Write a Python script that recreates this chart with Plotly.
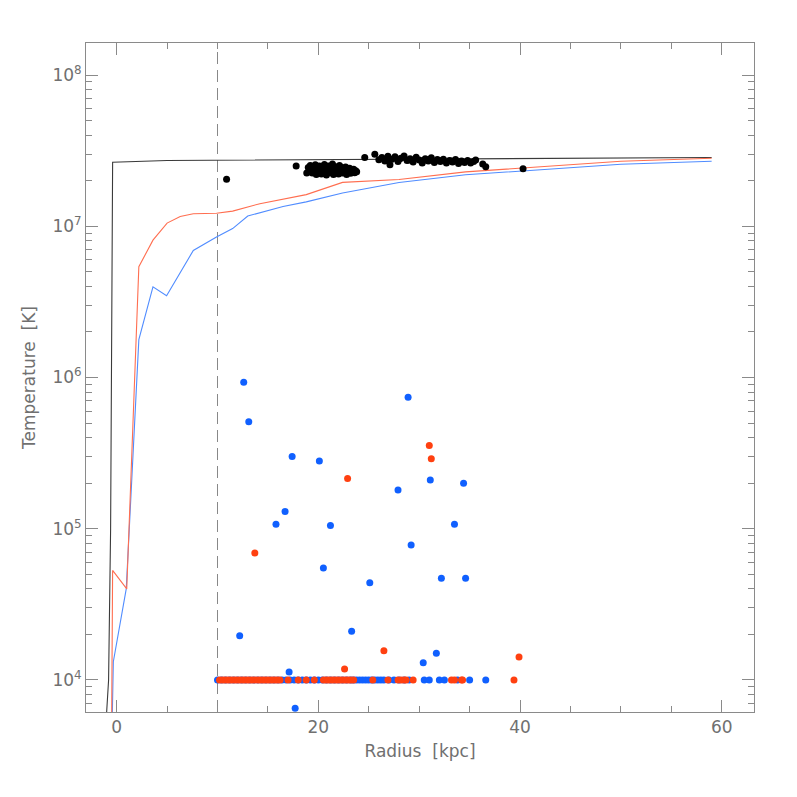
import plotly.graph_objects as go

# ---------------- data ----------------
# profile lines (radius kpc, temperature K)
black_line_r = [-1.0, -0.8, -0.6, -0.5, -0.4, 5, 18, 30, 40, 50, 59]
black_line_T = [6.0e3, 1.0e4, 1.0e5, 1.0e6, 2.65e7, 2.72e7, 2.75e7, 2.75e7, 2.78e7, 2.82e7, 2.85e7]

red_line_r = [-0.5, -0.4, 1.0, 2.2, 3.6, 5.0, 6.3, 7.6, 9.9, 11.5, 14.2, 18.8, 22.4, 28.0, 34.6, 42.9, 50, 59]
red_line_T = [5.0e3, 5.3e4, 4.0e4, 5.4e6, 8.1e6, 1.05e7, 1.16e7, 1.21e7, 1.22e7, 1.26e7, 1.41e7,
              1.62e7, 1.95e7, 2.04e7, 2.29e7, 2.51e7, 2.69e7, 2.82e7]

blue_line_r = [-0.45, -0.33, 0.95, 2.2, 3.6, 4.95, 7.6, 9.9, 11.5, 13.0, 16.5, 18.8, 22.4, 28.0, 34.6, 42.9, 50, 59]
blue_line_T = [5.0e3, 1.32e4, 4.0e4, 1.78e6, 3.98e6, 3.47e6, 6.92e6, 8.5e6, 9.66e6, 1.17e7, 1.35e7,
               1.45e7, 1.66e7, 1.95e7, 2.19e7, 2.40e7, 2.57e7, 2.69e7]

# hot gas particles (black)
black_r = [19.0, 19.1, 19.2, 19.3, 19.4, 19.5, 19.6, 19.7, 19.8, 19.9, 20.0, 20.1, 20.2, 20.3, 20.4,
           20.5, 20.6, 20.7, 20.8, 20.9, 21.0, 21.1, 21.2, 21.3, 21.4, 21.5, 21.6, 21.7, 21.8, 21.9,
           22.0, 22.1, 22.2, 22.3, 22.4, 22.5, 22.6, 22.7, 22.8, 22.9, 23.0, 23.1, 23.2, 23.3, 23.4,
           23.5, 23.6, 23.7, 23.8, 19.5, 20.0, 20.5, 21.0, 21.5, 22.0, 22.5, 19.8, 20.8, 21.8, 22.8,
           20.3, 21.3, 22.3, 10.9, 17.8, 18.85,
           26.0, 26.3, 26.6, 26.9, 27.1, 27.3, 27.6, 27.9, 28.2, 28.5, 28.8, 29.1, 29.4, 29.7, 30.0,
           30.3, 30.6, 30.9, 31.2, 31.5, 31.8, 32.1, 32.4, 32.7, 33.0, 33.3, 33.6, 33.9, 34.2, 34.5,
           34.8, 35.1, 35.4, 35.6, 28.0, 29.0, 30.4, 31.0, 32.0, 33.2, 34.0, 27.0, 24.6, 25.6, 36.3,
           36.6, 40.3]
black_T = [2.45e7, 2.30e7, 2.52e7, 2.38e7, 2.25e7, 2.48e7, 2.33e7, 2.55e7, 2.20e7, 2.42e7, 2.30e7,
           2.50e7, 2.36e7, 2.22e7, 2.46e7, 2.28e7, 2.56e7, 2.40e7, 2.18e7, 2.34e7, 2.50e7, 2.26e7,
           2.44e7, 2.32e7, 2.58e7, 2.20e7, 2.38e7, 2.48e7, 2.28e7, 2.42e7, 2.22e7, 2.52e7, 2.35e7,
           2.45e7, 2.25e7, 2.40e7, 2.30e7, 2.47e7, 2.20e7, 2.36e7, 2.28e7, 2.42e7, 2.24e7, 2.34e7,
           2.30e7, 2.38e7, 2.26e7, 2.33e7, 2.29e7, 2.40e7, 2.44e7, 2.38e7, 2.36e7, 2.32e7, 2.40e7,
           2.32e7, 2.36e7, 2.46e7, 2.36e7, 2.30e7, 2.32e7, 2.40e7, 2.30e7, 2.05e7, 2.50e7, 2.25e7,
           2.75e7, 2.85e7, 2.70e7, 2.90e7, 2.55e7, 2.78e7, 2.88e7, 2.68e7, 2.82e7, 2.92e7, 2.72e7,
           2.80e7, 2.66e7, 2.86e7, 2.74e7, 2.62e7, 2.80e7, 2.70e7, 2.84e7, 2.64e7, 2.76e7, 2.68e7,
           2.78e7, 2.62e7, 2.72e7, 2.66e7, 2.76e7, 2.60e7, 2.70e7, 2.64e7, 2.72e7, 2.62e7, 2.68e7,
           2.74e7, 2.78e7, 2.74e7, 2.72e7, 2.76e7, 2.72e7, 2.70e7, 2.66e7, 2.80e7, 2.85e7, 3.00e7,
           2.58e7, 2.48e7, 2.40e7]

# cold gas particles (blue)
blue_r = [12.6, 13.1, 17.4, 20.1, 28.9, 27.9, 31.1, 34.4, 16.7, 15.8, 21.2, 33.5, 29.2, 20.5, 25.1,
          32.2, 34.6, 12.2, 23.3, 31.7, 30.4, 17.1, 17.7,
          10.0, 10.4, 10.8, 11.2, 11.6, 12.0, 12.4, 12.8, 13.2, 13.6, 14.0, 14.4, 14.8, 15.2, 15.6,
          16.0, 16.4, 16.8, 17.2, 17.6, 18.0, 18.4, 18.8, 19.2, 19.6, 20.0, 20.4, 20.8, 21.2, 21.6,
          22.0, 22.4, 22.8, 23.2, 23.5, 23.8, 24.1, 24.4, 24.7, 25.0, 25.3, 25.6, 25.9, 26.2, 26.5,
          27.0, 27.5, 28.0, 28.5, 29.0, 30.5, 31.0, 32.0, 32.5, 33.8, 35.0, 36.6]
blue_T = [9.3e5, 5.1e5, 3.0e5, 2.8e5, 7.4e5, 1.8e5, 2.1e5, 2.0e5, 1.3e5, 1.07e5, 1.05e5, 1.07e5,
          7.8e4, 5.5e4, 4.4e4, 4.7e4, 4.7e4, 1.96e4, 2.1e4, 1.5e4, 1.3e4, 1.13e4, 6.5e3,
          1e4, 1e4, 1e4, 1e4, 1e4, 1e4, 1e4, 1e4, 1e4, 1e4, 1e4, 1e4, 1e4, 1e4, 1e4,
          1e4, 1e4, 1e4, 1e4, 1e4, 1e4, 1e4, 1e4, 1e4, 1e4, 1e4, 1e4, 1e4, 1e4, 1e4,
          1e4, 1e4, 1e4, 1e4, 1e4, 1e4, 1e4, 1e4, 1e4, 1e4, 1e4, 1e4, 1e4, 1e4, 1e4,
          1e4, 1e4, 1e4, 1e4, 1e4, 1e4, 1e4, 1e4, 1e4, 1e4, 1e4, 1e4]

# cold gas particles (red)
red_r = [31.0, 31.2, 22.9, 13.7, 26.5, 22.6, 39.9,
         10.2, 10.45, 10.7, 10.95, 11.2, 11.45, 11.7, 11.95, 12.2, 12.45, 12.7, 12.95, 13.2, 13.45,
         13.7, 13.95, 14.2, 14.45, 14.7, 14.95, 15.2, 15.45, 15.7, 15.95, 16.2, 17.0, 18.0, 18.8,
         19.6, 20.5, 20.75, 21.0, 21.25, 21.5, 21.75, 22.0, 22.25, 22.5, 22.75, 23.0, 23.25, 23.5,
         25.4, 26.9, 27.9, 28.2, 28.5, 28.7, 29.4, 33.2, 33.5, 34.2, 34.3, 39.4]
red_T = [3.55e5, 2.9e5, 2.15e5, 6.9e4, 1.56e4, 1.18e4, 1.42e4,
         1e4, 1e4, 1e4, 1e4, 1e4, 1e4, 1e4, 1e4, 1e4, 1e4, 1e4, 1e4, 1e4, 1e4,
         1e4, 1e4, 1e4, 1e4, 1e4, 1e4, 1e4, 1e4, 1e4, 1e4, 1e4, 1e4, 1e4, 1e4,
         1e4, 1e4, 1e4, 1e4, 1e4, 1e4, 1e4, 1e4, 1e4, 1e4, 1e4, 1e4, 1e4, 1e4,
         1e4, 1e4, 1e4, 1e4, 1e4, 1e4, 1e4, 1e4, 1e4, 1e4, 1e4, 1e4]

cut_radius = 10

x_tickvals = [0, 20, 40, 60]
x_ticktext = ["0", "20", "40", "60"]
y_tickvals = [1e4, 1e5, 1e6, 1e7, 1e8]
y_ticktext = ["10<sup>4</sup>", "10<sup>5</sup>", "10<sup>6</sup>", "10<sup>7</sup>", "10<sup>8</sup>"]
y_minor = [m * 10 ** e for e in range(3, 9) for m in range(2, 10)]

# ---------------- figure ----------------
BLUE = "rgb(16,96,255)"
RED = "rgb(255,64,16)"
AX = "#8a8a8a"
TXT = "#707070"
FONT = "DejaVu Sans, Liberation Sans, sans-serif"

fig = go.Figure()
fig.add_trace(go.Scatter(x=black_line_r, y=black_line_T, mode="lines",
                         line=dict(color="#3a3a3a", width=1.1)))
fig.add_trace(go.Scatter(x=blue_line_r, y=blue_line_T, mode="lines",
                         line=dict(color="rgb(80,140,255)", width=1.1)))
fig.add_trace(go.Scatter(x=red_line_r, y=red_line_T, mode="lines",
                         line=dict(color="rgb(255,110,80)", width=1.1)))
fig.add_trace(go.Scatter(x=black_r, y=black_T, mode="markers",
                         marker=dict(color="black", size=7, line=dict(width=0))))
fig.add_trace(go.Scatter(x=blue_r, y=blue_T, mode="markers",
                         marker=dict(color=BLUE, size=7, line=dict(width=0))))
fig.add_trace(go.Scatter(x=red_r, y=red_T, mode="markers",
                         marker=dict(color=RED, size=7, line=dict(width=0))))

fig.add_shape(type="line", xref="x", yref="paper", x0=cut_radius, x1=cut_radius, y0=0, y1=1,
              line=dict(color="#888888", width=1, dash="12px,6px"), layer="below")

fig.update_layout(
    width=781, height=781,
    margin=dict(l=78, r=35, t=35, b=77),
    paper_bgcolor="white", plot_bgcolor="white",
    showlegend=False,
    font=dict(family=FONT, color=TXT, size=16),
    xaxis=dict(
        range=[-3.04, 63.2], showgrid=False, zeroline=False,
        showline=True, linecolor=AX, linewidth=1, mirror="ticks",
        ticks="inside", ticklen=12, tickcolor=AX, tickwidth=1,
        tickmode="array", tickvals=x_tickvals, ticktext=x_ticktext,
        tickfont=dict(family=FONT, size=17, color=TXT),
        minor=dict(ticks="inside", ticklen=6, tickcolor=AX, dtick=5, tick0=0, showgrid=False),
        title=dict(text="Radius  [kpc]", font=dict(family=FONT, size=17, color=TXT), standoff=8),
    ),
    yaxis=dict(
        type="log", range=[3.788, 8.212], showgrid=False, zeroline=False,
        showline=True, linecolor=AX, linewidth=1, mirror="ticks",
        ticks="inside", ticklen=12, tickcolor=AX, tickwidth=1,
        tickmode="array", tickvals=y_tickvals, ticktext=y_ticktext,
        tickfont=dict(family=FONT, size=17, color=TXT),
        minor=dict(ticks="inside", ticklen=6, tickcolor=AX, tickmode="array",
                   tickvals=y_minor, showgrid=False),
        title=dict(text="Temperature  [K]", font=dict(family=FONT, size=17, color=TXT), standoff=12),
    ),
)

fig.write_html("out.html")
